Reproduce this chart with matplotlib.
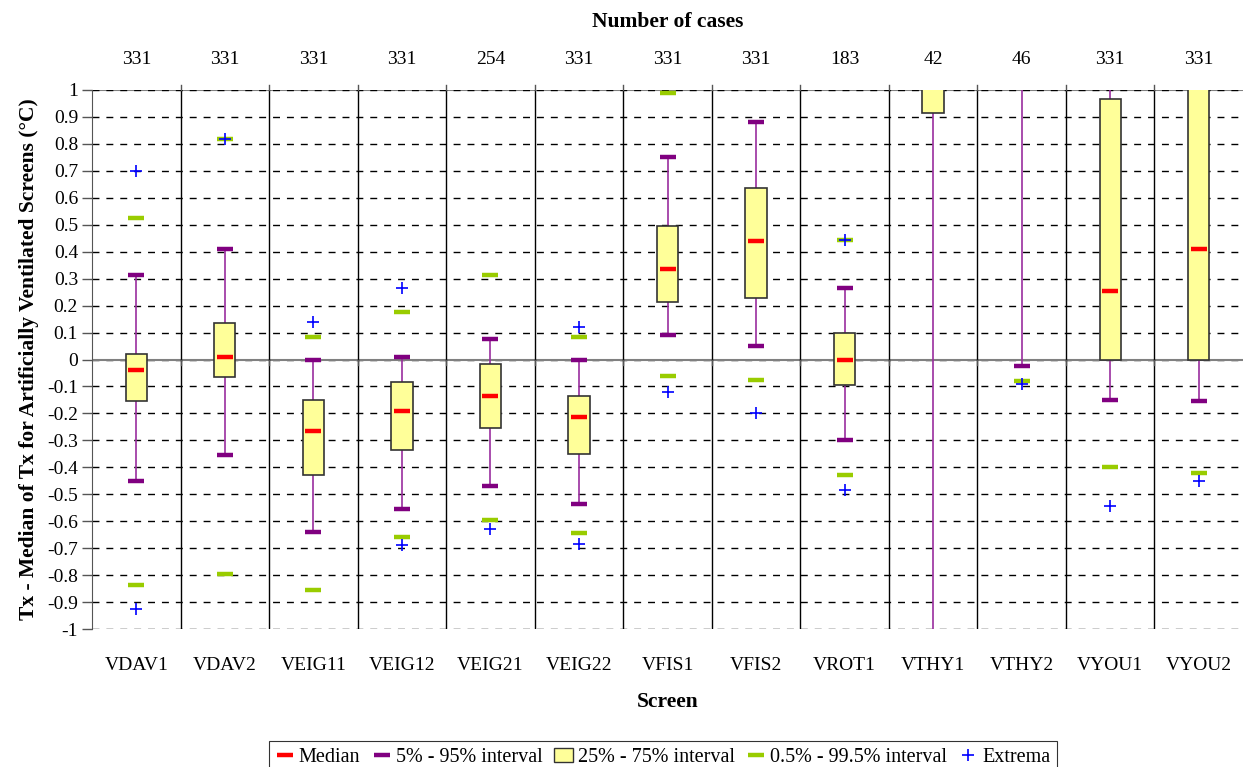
import matplotlib
matplotlib.use('Agg')
import matplotlib.pyplot as plt
from matplotlib.lines import Line2D
from matplotlib.patches import Patch
import numpy as np

plt.rcParams.update({
    'font.family': ['Liberation Serif', 'DejaVu Serif'],
    'font.size': 13,
})

# ── data (values beyond +/-1 are off-scale) ──
screens = ['VDAV1', 'VDAV2', 'VEIG11', 'VEIG12', 'VEIG21', 'VEIG22', 'VFIS1',
           'VFIS2', 'VROT1', 'VTHY1', 'VTHY2', 'VYOU1', 'VYOU2']
n_cases = [331, 331, 331, 331, 254, 331, 331, 331, 183, 42, 46, 331, 331]

ext_min = [-0.925, np.nan, np.nan, -0.69, -0.63, -0.685, -0.12, -0.20, -0.485, np.nan, -0.09, -0.545, -0.45]
p005 = [-0.835, -0.795, -0.855, -0.66, -0.595, -0.645, -0.06, -0.075, -0.43, np.nan, -0.08, -0.40, -0.42]
p05 = [-0.45, -0.355, -0.64, -0.555, -0.47, -0.535, 0.09, 0.05, -0.30, -1.05, -0.025, -0.15, -0.155]
q25 = [-0.155, -0.065, -0.43, -0.335, -0.255, -0.35, 0.215, 0.23, -0.095, 0.915, 1.10, 0.0, 0.0]
median = [-0.04, 0.01, -0.265, -0.19, -0.135, -0.215, 0.335, 0.44, 0.0, 1.10, 1.20, 0.255, 0.41]
q75 = [0.02, 0.135, -0.15, -0.085, -0.015, -0.135, 0.495, 0.635, 0.10, 1.20, 1.30, 0.965, 1.10]
p95 = [0.315, 0.41, 0.0, 0.01, 0.075, 0.0, 0.75, 0.88, 0.265, 1.30, 1.40, 1.10, 1.20]
p995 = [0.525, 0.82, 0.085, 0.175, 0.315, 0.085, 0.99, np.nan, 0.445, np.nan, np.nan, np.nan, np.nan]
ext_max = [0.70, 0.82, 0.14, 0.265, np.nan, 0.12, np.nan, np.nan, 0.445, np.nan, np.nan, np.nan, np.nan]

c_med = '#ff0000'
c_whisk = '#9a2d9e'
c_cap = '#800080'
c_box = '#ffff99'
c_green = '#99cc00'
c_blue = '#0000ff'

fig = plt.figure(figsize=(12.44, 7.67), dpi=100, facecolor='white')
ax = fig.add_axes([92/1244, 1-629/767, (1243-92)/1244, (629-90)/767])

x = np.arange(len(screens))

# grid
yt = np.round(np.arange(-1, 1.01, 0.1), 1)
ax.set_ylim(-1, 1)
ax.set_xlim(-0.5, len(screens)-0.5)
ax.set_yticks(yt)
ax.set_yticklabels(['0' if abs(v) < 1e-9 else f'{v:g}' for v in yt])
for v in yt:
    ax.axhline(v, color='black', lw=1.0, ls=(0, (5, 5)), zorder=1)
ax.axhline(0, color='#808080', lw=1.5, zorder=1)
ax.axhline(1, color='#808080', lw=1.5, zorder=0.9)
for b in np.arange(0.5, len(screens)-0.5, 1):
    ax.axvline(b, color='black', lw=1.0, zorder=1)
    ax.plot([b, b], [1, 1.02], color='#555555', lw=1.0, clip_on=False)
    ax.plot([b, b], [0, -0.02], color='#555555', lw=1.0)

# whiskers, boxes
ax.vlines(x, p05, q25, color=c_whisk, lw=1.2, zorder=2)
ax.vlines(x, q75, p95, color=c_whisk, lw=1.2, zorder=2)
ax.bar(x, np.array(q75)-np.array(q25), bottom=q25, width=0.24, color=c_box,
       edgecolor='#333333', lw=1.2, zorder=3)

ms, mw = 11.5, 3.2
ax.plot(x, p05, '_', color=c_cap, ms=ms, mew=mw, zorder=4)
ax.plot(x, p95, '_', color=c_cap, ms=ms, mew=mw, zorder=4)
ax.plot(x, p005, '_', color=c_green, ms=ms, mew=mw, zorder=4)
ax.plot(x, p995, '_', color=c_green, ms=ms, mew=mw, zorder=4)
ax.plot(x, median, '_', color=c_med, ms=ms, mew=mw, zorder=5)
ax.plot(x, ext_min, '+', color=c_blue, ms=9, mew=1.2, zorder=6)
ax.plot(x, ext_max, '+', color=c_blue, ms=9, mew=1.2, zorder=6)

# axes styling
for s in ['top', 'right']:
    ax.spines[s].set_visible(False)
ax.spines['left'].set_color('#555555')
ax.spines['bottom'].set_visible(False)
ax.tick_params(axis='y', length=7, width=1, color='#555555', labelsize=14, pad=3)
ax.set_xticks(x)
ax.set_xticklabels(screens)
ax.tick_params(axis='x', length=0, labelsize=14, pad=20)
ax.set_xlabel('Screen', fontsize=15.5, fontweight='bold', labelpad=13)
ax.set_ylabel('Tx - Median of Tx for Artificially Ventilated Screens (°C)',
              fontsize=15.5, fontweight='bold', labelpad=6)

top = ax.secondary_xaxis('top')
top.set_xticks(x)
top.set_xticklabels([str(n) for n in n_cases])
top.tick_params(length=0, labelsize=14, pad=16)
top.spines['top'].set_visible(False)
top.set_xlabel('Number of cases', fontsize=15.5, fontweight='bold', labelpad=17)

handles = [
    Line2D([], [], color=c_med, marker='_', ls='none', ms=11, mew=3.2),
    Line2D([], [], color=c_cap, marker='_', ls='none', ms=11, mew=3.2),
    Patch(facecolor=c_box, edgecolor='#333333', lw=1),
    Line2D([], [], color=c_green, marker='_', ls='none', ms=11, mew=3.2),
    Line2D([], [], color=c_blue, marker='+', ls='none', ms=9, mew=1.2),
]
labels = ['Median', '5% - 95% interval', '25% - 75% interval',
          '0.5% - 99.5% interval', 'Extrema']
leg = fig.legend(handles, labels, loc='upper center', ncol=5,
                 bbox_to_anchor=(663/1244, 1-731/767), fontsize=14.5,
                 frameon=True, fancybox=False, edgecolor='black',
                 handlelength=0.9, handletextpad=0.25, columnspacing=0.6,
                 borderpad=0.35)
leg.get_frame().set_linewidth(0.8)

fig.savefig('out.png', dpi=100, facecolor='white')
